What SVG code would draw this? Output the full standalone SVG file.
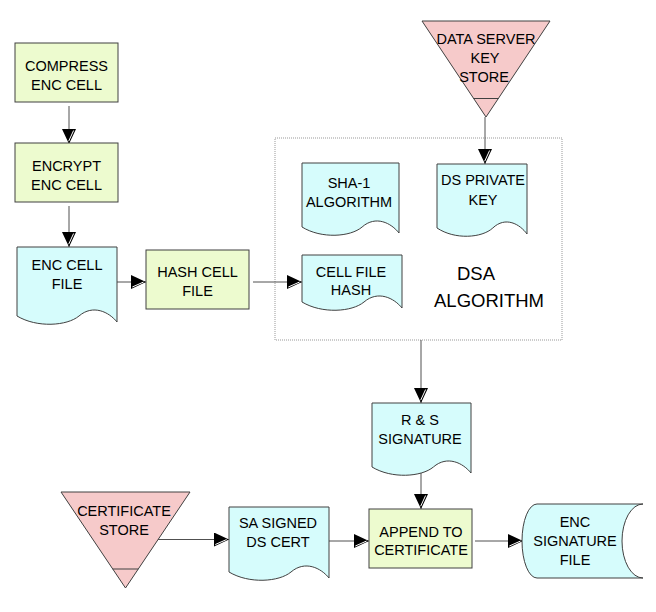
<svg xmlns="http://www.w3.org/2000/svg" width="656" height="612" viewBox="0 0 656 612">
<style>
text{font-family:"Liberation Sans",Arial,sans-serif;font-size:14.5px;fill:#000;text-anchor:middle}
.proc{fill:#EDFBCF;stroke:#404040;stroke-width:1}
.doc{fill:#D6FCFC;stroke:#404040;stroke-width:1}
.store{fill:#F6CACA;stroke:#404040;stroke-width:1}
.con{stroke:#505050;stroke-width:1;fill:none}
.big{font-size:18.5px}
</style>
<defs>
<marker id="ar" markerUnits="userSpaceOnUse" markerWidth="15" markerHeight="14" viewBox="0 0 15 14" refX="15" refY="7" orient="0">
<path d="M0,0 L15,7 L0,14 Z" fill="#000"/>
<path d="M1.3,12 L12.6,7" stroke="#fff" stroke-width="1"/>
</marker>
<marker id="ad" markerUnits="userSpaceOnUse" markerWidth="14" markerHeight="15" viewBox="0 0 14 15" refX="7" refY="15" orient="0">
<path d="M0,0 L14,0 L7,15 Z" fill="#000"/>
<path d="M11.6,1.5 L6.7,12.2" stroke="#fff" stroke-width="1"/>
</marker>
</defs>
<rect x="0" y="0" width="656" height="612" fill="#fff"/>

<g id="dsa-algorithm">
<rect x="275" y="138" width="287" height="202" fill="none" stroke="#999" stroke-width="1" stroke-dasharray="1,1"/>
<text class="big" x="476" y="280">DSA</text>
<text class="big" x="489" y="307">ALGORITHM</text>
</g>

<g id="connectors">
<line class="con" x1="69" y1="106" x2="69" y2="144" marker-end="url(#ad)"/>
<line class="con" x1="69" y1="206" x2="69" y2="247" marker-end="url(#ad)"/>
<line class="con" x1="117" y1="282" x2="146" y2="282" marker-end="url(#ar)"/>
<line class="con" x1="253" y1="282" x2="302" y2="282" marker-end="url(#ar)"/>
<line class="con" x1="485" y1="117" x2="485" y2="164" marker-end="url(#ad)"/>
<line class="con" x1="421" y1="340" x2="421" y2="403" marker-end="url(#ad)"/>
<line class="con" x1="421" y1="468" x2="421" y2="509" marker-end="url(#ad)"/>
<line class="con" x1="158" y1="539.5" x2="229" y2="539.5" marker-end="url(#ar)"/>
<line class="con" x1="329" y1="541" x2="369" y2="541" marker-end="url(#ar)"/>
<line class="con" x1="475" y1="541" x2="523" y2="541" marker-end="url(#ar)"/>
</g>

<g id="compress-enc-cell">
<rect class="proc" x="15" y="43" width="103" height="59"/>
<text x="66.5" y="70.5">COMPRESS</text>
<text x="66.5" y="90">ENC CELL</text>
</g>

<g id="encrypt-enc-cell">
<rect class="proc" x="15" y="143" width="103" height="59"/>
<text x="66.5" y="171">ENCRYPT</text>
<text x="66.5" y="190">ENC CELL</text>
</g>

<g id="enc-cell-file">
<path class="doc" d="M17,247 H117 V322 C109,312 93,304 79,316 C67,326 37,328 17,316 Z"/>
<text x="67" y="270">ENC CELL</text>
<text x="67" y="289">FILE</text>
</g>

<g id="hash-cell-file">
<rect class="proc" x="146" y="250" width="103" height="59"/>
<text x="197.5" y="277">HASH CELL</text>
<text x="197.5" y="296">FILE</text>
</g>

<g id="data-server-key-store">
<path class="store" d="M422,21 L550,21 L486,117 Z"/>
<line x1="473.5" y1="98.5" x2="498.5" y2="98.5" stroke="#404040" stroke-width="1"/>
<text x="486" y="43.5">DATA SERVER</text>
<text x="485" y="62.5">KEY</text>
<text x="484" y="81.5">STORE</text>
</g>

<g id="sha-1-algorithm">
<path class="doc" d="M302,163 H399 V233 C391.2,223 375.7,215 362.1,227 C350.5,237 321.4,239 302,227 Z"/>
<text x="349" y="188">SHA-1</text>
<text x="349" y="207">ALGORITHM</text>
</g>

<g id="ds-private-key">
<path class="doc" d="M437,164 H527 V234 C519.8,224 505.4,216 492.8,228 C482,238 455,240 437,228 Z"/>
<text x="483" y="185">DS PRIVATE</text>
<text x="483" y="205">KEY</text>
</g>

<g id="cell-file-hash">
<path class="doc" d="M302,255 H402 V308 C394,298 378,290 364,302 C352,312 322,314 302,302 Z"/>
<text x="351" y="277">CELL FILE</text>
<text x="351" y="295">HASH</text>
</g>

<g id="rs-signature">
<path class="doc" d="M372,403 H471 V473 C463.1,463 447.2,455 433.4,467 C421.5,477 391.8,479 372,467 Z"/>
<text x="420" y="425">R &amp; S</text>
<text x="420" y="443.5">SIGNATURE</text>
</g>

<g id="certificate-store">
<path class="store" d="M61,492 L190,492 L125.5,588 Z"/>
<line x1="112.7" y1="569" x2="138.3" y2="569" stroke="#404040" stroke-width="1"/>
<text x="124" y="516">CERTIFICATE</text>
<text x="124" y="535">STORE</text>
</g>

<g id="sa-signed-ds-cert">
<path class="doc" d="M229,507 H329 V578 C321,568 305,560 291,572 C279,582 249,584 229,572 Z"/>
<text x="278" y="527.5">SA SIGNED</text>
<text x="278" y="547">DS CERT</text>
</g>

<g id="append-to-certificate">
<rect class="proc" x="369" y="509" width="103" height="59"/>
<text x="421" y="536.5">APPEND TO</text>
<text x="421" y="555">CERTIFICATE</text>
</g>

<g id="enc-signature-file">
<path class="doc" d="M537,504 H643 A21,37 0 0 0 643,578 H537 A15,37 0 0 1 537,504 Z"/>
<text x="575" y="526.5">ENC</text>
<text x="575" y="546">SIGNATURE</text>
<text x="575" y="565">FILE</text>
</g>
</svg>
